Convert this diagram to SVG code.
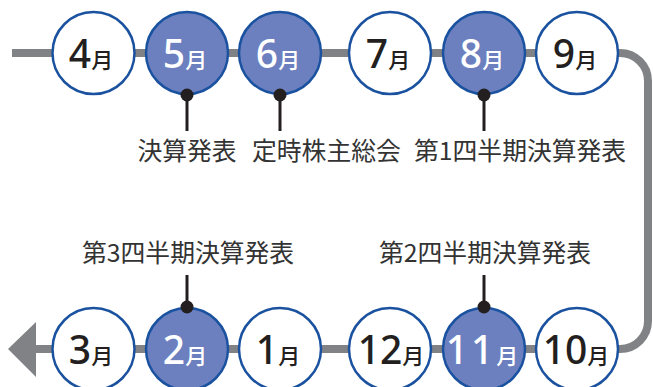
<svg xmlns="http://www.w3.org/2000/svg" width="653" height="387" viewBox="0 0 653 387">
<style>
.c{stroke:#1a52a0;stroke-width:2.5}
.w{fill:#fff}
.f{fill:#6c80bf}
.n{font-family:"Noto Sans","Open Sans",sans-serif;font-size:39px;text-anchor:middle;font-weight:500}
.m{font-family:"Noto Sans CJK JP",sans-serif;font-size:22px;font-weight:500}
.dk{fill:#231f20}
.lt{fill:#fff}
.lb{font-family:"Noto Sans CJK JP",sans-serif;font-size:24.8px;fill:#333}
.pin{stroke:#231f20;stroke-width:3}
.dot{fill:#231f20}
</style>
<g id="connectors">
<path d="M12,53 H620 A28,28 0 0 1 648,81 V321 A28,28 0 0 1 620,349 H34" fill="none" stroke="#808285" stroke-width="8"/>
<polygon points="8,349 36,322 36,377" fill="#808285"/>
<line class="pin" x1="187" y1="95" x2="187" y2="131"/>
<line class="pin" x1="280" y1="95" x2="280" y2="131"/>
<line class="pin" x1="484" y1="95" x2="484" y2="131"/>
<line class="pin" x1="187" y1="275" x2="187" y2="307"/>
<line class="pin" x1="484" y1="275" x2="484" y2="307"/>
</g>
<g id="apr"><circle class="c w" cx="93.5" cy="53" r="41"/><text class="n dk" x="91" y="68">4<tspan class="m">月</tspan></text></g>
<g id="may"><circle class="c f" cx="187" cy="53" r="41"/><text class="n lt" x="185" y="68">5<tspan class="m">月</tspan></text></g>
<g id="jun"><circle class="c f" cx="280" cy="53" r="41"/><text class="n lt" x="278" y="68">6<tspan class="m">月</tspan></text></g>
<g id="jul"><circle class="c w" cx="390" cy="53" r="41"/><text class="n dk" x="388" y="68">7<tspan class="m">月</tspan></text></g>
<g id="aug"><circle class="c f" cx="484" cy="53" r="41"/><text class="n lt" x="482" y="68">8<tspan class="m">月</tspan></text></g>
<g id="sep"><circle class="c w" cx="577" cy="53" r="41"/><text class="n dk" x="575" y="68">9<tspan class="m">月</tspan></text></g>
<g id="oct"><circle class="c w" cx="577" cy="349" r="41"/><text class="n dk" x="576" y="364">10<tspan class="m">月</tspan></text></g>
<g id="nov"><circle class="c f" cx="484" cy="349" r="41"/><text class="n lt" x="482" y="364" letter-spacing="3">11<tspan class="m" letter-spacing="0">月</tspan></text></g>
<g id="dec"><circle class="c w" cx="390" cy="349" r="41"/><text class="n dk" x="391" y="364">12<tspan class="m">月</tspan></text></g>
<g id="jan"><circle class="c w" cx="280" cy="349" r="41"/><text class="n dk" x="278" y="364">1<tspan class="m">月</tspan></text></g>
<g id="feb"><circle class="c f" cx="187" cy="349" r="41"/><text class="n lt" x="185" y="364">2<tspan class="m">月</tspan></text></g>
<g id="mar"><circle class="c w" cx="93.5" cy="349" r="41"/><text class="n dk" x="91" y="364">3<tspan class="m">月</tspan></text></g>
<g id="dots">
<circle class="dot" cx="187" cy="95" r="6.5"/>
<circle class="dot" cx="280" cy="95" r="6.5"/>
<circle class="dot" cx="484" cy="95" r="6.5"/>
<circle class="dot" cx="187" cy="307" r="6.5"/>
<circle class="dot" cx="484" cy="307" r="6.5"/>
</g>
<g id="labels">
<text class="lb" x="187" y="160" text-anchor="middle">決算発表</text>
<text class="lb" x="252" y="160">定時株主総会</text>
<text class="lb" x="414" y="160">第1四半期決算発表</text>
<text class="lb" x="82" y="262">第3四半期決算発表</text>
<text class="lb" x="379" y="262">第2四半期決算発表</text>
</g>
</svg>
